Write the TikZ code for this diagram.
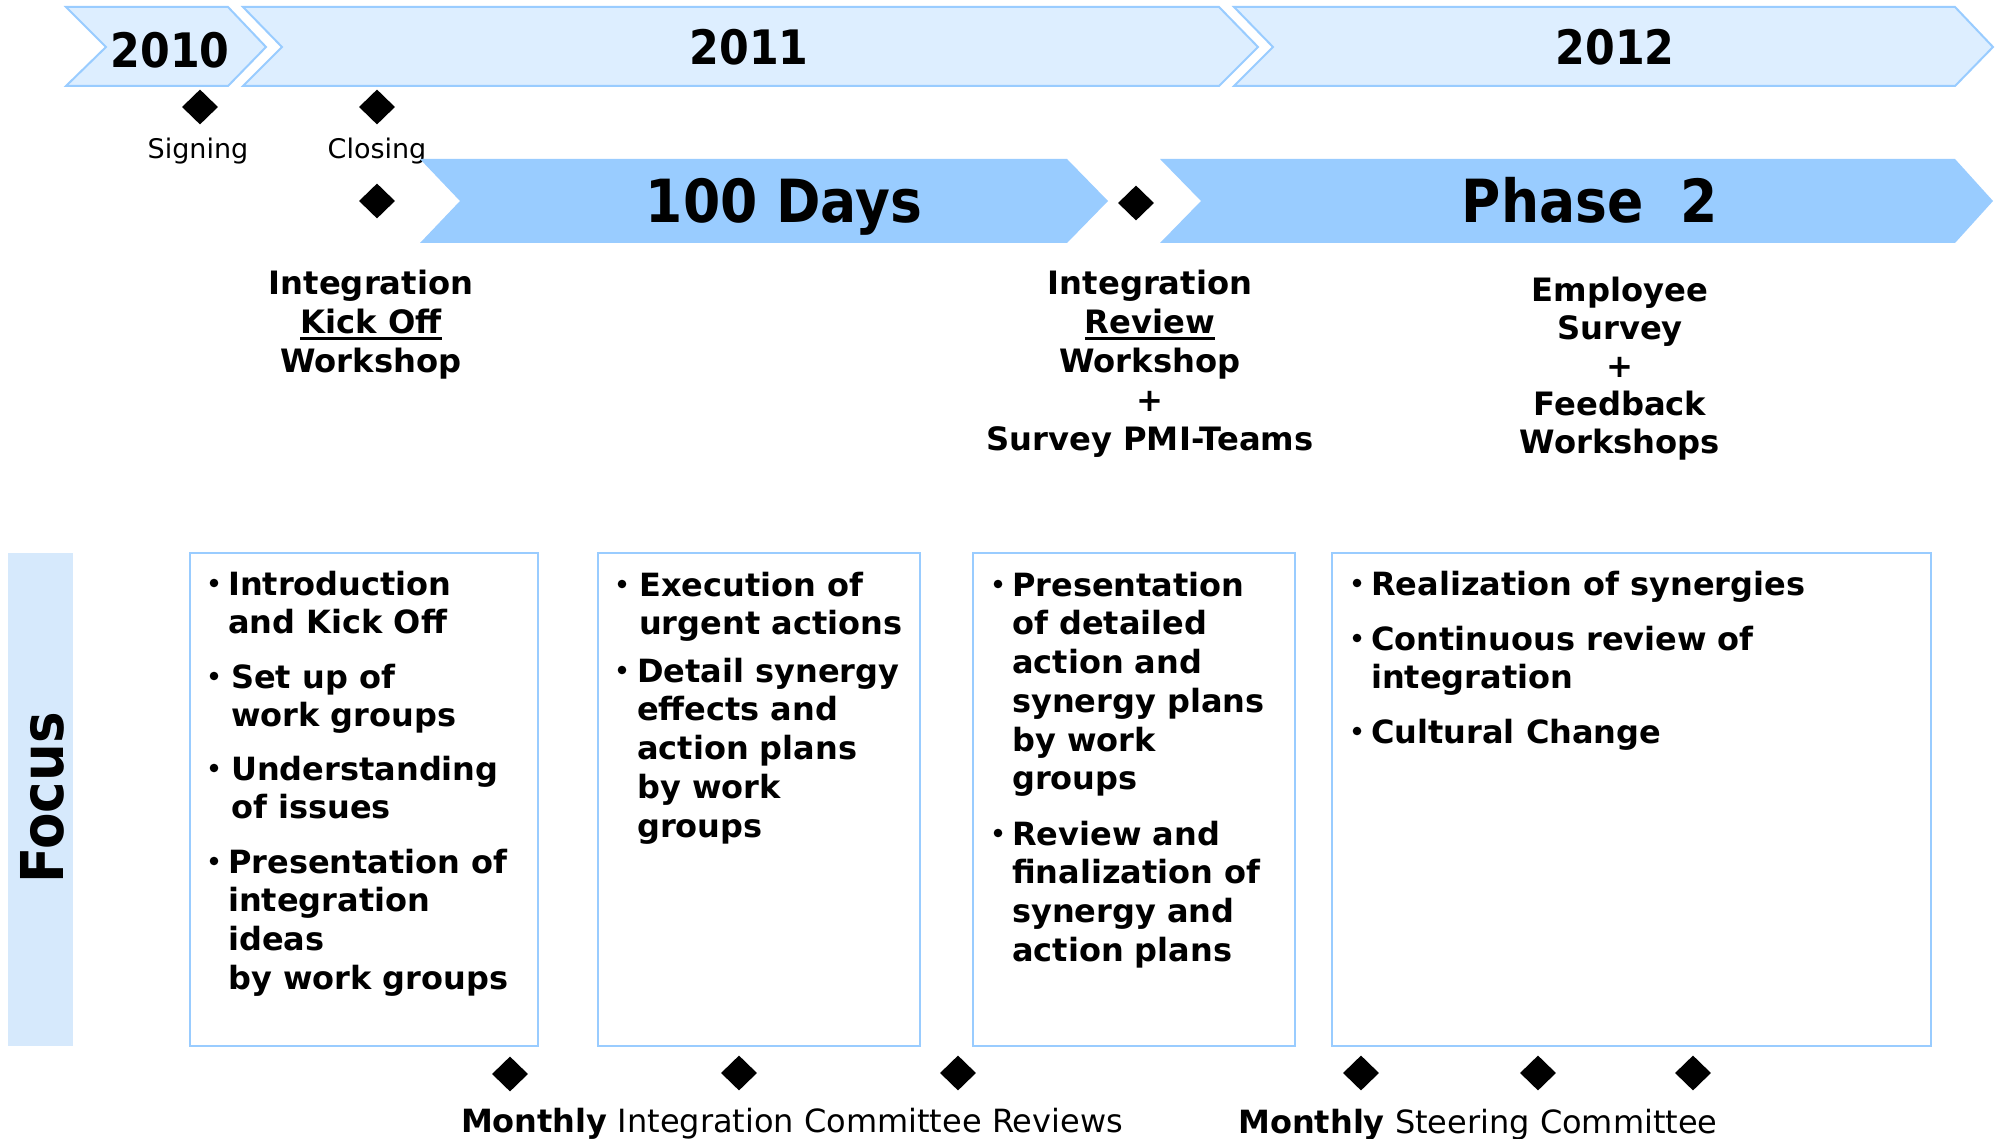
\documentclass[tikz,border=0pt]{standalone}
\usepackage{fontspec}
\setmainfont{DejaVu Sans}
\newfontfamily\condfam[FakeStretch=0.9]{DejaVu Sans}
\usetikzlibrary{shapes.geometric}

\definecolor{chevline}{RGB}{153,204,255}
\definecolor{chevfill}{RGB}{221,238,255}
\definecolor{phasefill}{RGB}{153,204,255}
\definecolor{focusfill}{RGB}{214,233,252}

% thick underline sitting a few points below the baseline
\newcommand{\ulbar}[1]{\leavevmode\setbox0\hbox{#1}\rlap{\rule[-7pt]{\wd0}{3pt}}\box0}
% strut that fixes the top of a text block 30pt above its first baseline
\newcommand{\topstrut}{\rule{0pt}{30pt}}

\tikzset{
  yearchev/.style={draw=chevline, fill=chevfill, line width=2pt, line join=miter},
  phasechev/.style={fill=phasefill},
  focusbox/.style={draw=chevline, line width=2pt},
  dmd/.style={diamond, fill=black, inner sep=0pt, minimum width=36pt, minimum height=35pt},
  yeartxt/.style={anchor=base, inner sep=0pt, font=\condfam\bfseries\fontsize{47.5}{47.5}\selectfont},
  phasetxt/.style={anchor=base, inner sep=0pt, font=\condfam\bfseries\fontsize{59.5}{59.5}\selectfont},
  smalltxt/.style={anchor=base, inner sep=0pt, font=\fontsize{27}{32}\selectfont},
  eventtxt/.style={anchor=north, inner sep=0pt, align=center, font=\bfseries\fontsize{32.2}{39}\selectfont},
  itemtxt/.style={anchor=north west, inner sep=0pt, align=left, font=\bfseries\fontsize{32}{38.7}\selectfont},
  bottomtxt/.style={anchor=base, inner sep=0pt, font=\fontsize{32}{38}\selectfont},
  bullet/.style={fill=black},
}

\begin{document}
\begin{tikzpicture}[x=1pt, y=-1pt]
\useasboundingbox (0,0) rectangle (1995,1139);
\fill[white] (0,0) rectangle (1995,1139);

% ---- year chevrons ----
\draw[yearchev] (66,7) -- (228,7) -- (266,47) -- (228,86) -- (66,86) -- (106,47) -- cycle;
\draw[yearchev] (243,7) -- (1219,7) -- (1258,47) -- (1219,86) -- (243,86) -- (282,47) -- cycle;
\draw[yearchev] (1234,7) -- (1955,7) -- (1993,47) -- (1955,86) -- (1234,86) -- (1273,47) -- cycle;
\node[yeartxt] (y2010) at (170,68) {2010};
\node[yeartxt] (y2011) at (749,65) {2011};
\node[yeartxt] (y2012) at (1615,65) {2012};

% ---- milestones below the years ----
\node[dmd] (signing) at (200,107) {};
\node[dmd] (closing) at (377,107) {};
\node[smalltxt] (signingtxt) at (198,159) {Signing};
\node[smalltxt] (closingtxt) at (377,159) {Closing};

% ---- phase chevrons ----
\fill[phasechev] (420,159) -- (1067,159) -- (1108,201) -- (1067,243) -- (420,243) -- (460,201) -- cycle;
\fill[phasechev] (1160,159) -- (1955,159) -- (1993,201) -- (1955,243) -- (1160,243) -- (1201,201) -- cycle;
\node[phasetxt] (days) at (784,223) {100 Days};
\node[phasetxt] (phase) at (1590,223) {Phase~~2};

\node[dmd] (kickoff) at (377,201) {};
\node[dmd] (review) at (1136,203) {};

% ---- workshop labels ----
\node[eventtxt] (kickofftxt) at (371,264) {\topstrut Integration\\\ulbar{Kick Off}\\Workshop};
\node[eventtxt] (reviewtxt) at (1150,264) {\topstrut Integration\\\ulbar{Review}\\Workshop\\+\\Survey PMI-Teams};
\node[eventtxt, font=\bfseries\fontsize{32.2}{38}\selectfont] (surveytxt) at (1620,271) {\topstrut Employee\\Survey\\+\\Feedback\\Workshops};

% ---- focus column ----
\fill[focusfill] (8,553) rectangle (73,1046);
\node[anchor=base, rotate=90, inner sep=0pt, font=\condfam\bfseries\fontsize{59}{59}\selectfont] (focus) at (63,798) {Focus};

% ---- focus boxes ----
\draw[focusbox] (190,553) rectangle (538,1046);
\draw[focusbox] (598,553) rectangle (920,1046);
\draw[focusbox] (973,553) rectangle (1295,1046);
\draw[focusbox] (1332,553) rectangle (1931,1046);

% box 1
\node[itemtxt] (a1) at (228,565) {\topstrut Introduction\\and Kick Off};
\node[itemtxt] (a2) at (231,658) {\topstrut Set up of\\work groups};
\node[itemtxt] (a3) at (231,750) {\topstrut Understanding\\of issues};
\node[itemtxt] (a4) at (228,843) {\topstrut Presentation of\\integration\\ideas\\by work groups};
\foreach \yy in {583,676,768,861} \fill[bullet] (214,\yy) circle (4.3);

% box 2
\node[itemtxt] (b1) at (639,566) {\topstrut Execution of\\urgent actions};
\node[itemtxt] (b2) at (637,652) {\topstrut Detail synergy\\effects and\\action plans\\by work\\groups};
\foreach \yy in {584,670} \fill[bullet] (622,\yy) circle (4.3);

% box 3
\node[itemtxt] (c1) at (1012,566) {\topstrut Presentation\\of detailed\\action and\\synergy plans\\by work\\groups};
\node[itemtxt] (c2) at (1012,815) {\topstrut Review and\\finalization of\\synergy and\\action plans};
\foreach \yy in {584,833} \fill[bullet] (998,\yy) circle (4.3);

% box 4
\node[itemtxt] (d1) at (1371,565) {\topstrut Realization of synergies};
\node[itemtxt] (d2) at (1371,620) {\topstrut Continuous review of\\integration};
\node[itemtxt] (d3) at (1371,713) {\topstrut Cultural Change};
\foreach \yy in {583,638,731} \fill[bullet] (1357,\yy) circle (4.3);

% ---- monthly meetings ----
\node[dmd] (ic1) at (510,1074) {};
\node[dmd] (ic2) at (739,1073) {};
\node[dmd] (ic3) at (958,1073) {};
\node[dmd] (sc1) at (1361,1073) {};
\node[dmd] (sc2) at (1538,1073) {};
\node[dmd] (sc3) at (1693,1073) {};
\node[bottomtxt] (ictxt) at (792,1132) {\textbf{Monthly} Integration Committee Reviews};
\node[bottomtxt] (sctxt) at (1478,1133) {\textbf{Monthly} Steering Committee};
\end{tikzpicture}
\end{document}
